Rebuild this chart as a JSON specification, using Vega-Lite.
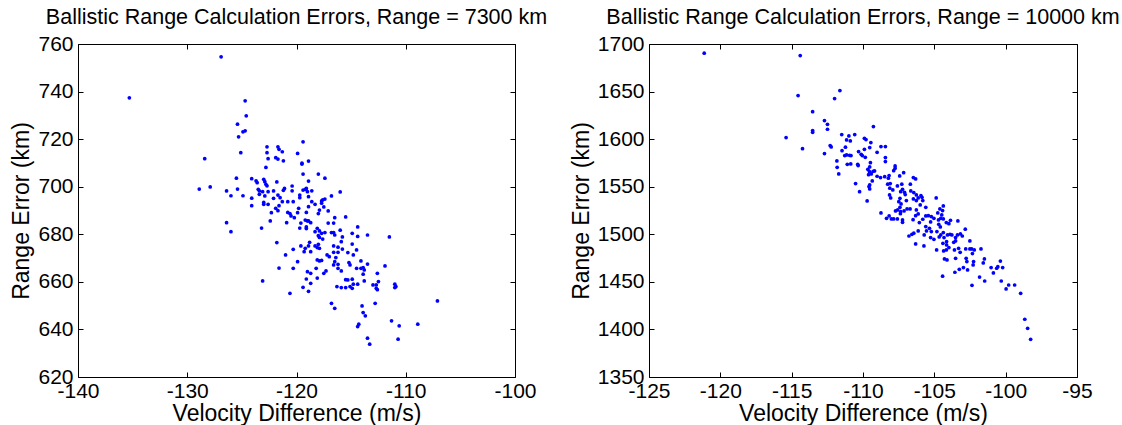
{
  "$schema": "https://vega.github.io/schema/vega-lite/v6.json",
  "padding": {"left": 10, "top": 6, "right": 5, "bottom": 2},
  "config": {
    "font": "Liberation Sans",
    "view": {"stroke": "black", "strokeWidth": 1},
    "title": {"font": "Liberation Sans", "fontSize": 21.5, "fontWeight": "normal", "color": "black", "offset": 5, "anchor": "middle"},
    "axis": {
      "labelFont": "Liberation Sans", "labelFontSize": 21, "labelColor": "black",
      "titleFont": "Liberation Sans", "titleFontSize": 23, "titleFontWeight": "normal", "titleColor": "black",
      "domain": false, "grid": false, "tickColor": "black", "tickSize": 5, "tickWidth": 1,
      "labelFlush": false, "labelOverlap": false, "labelExpr": "'' + datum.value"
    },
    "axisBottom": {"titlePadding": 1, "labelPadding": 3},
    "axisLeft": {"titlePadding": 4, "labelPadding": 5}
  },
  "datasets": {
    "r7300": [
      {"v": -126.9, "err": 754.6}, {"v": -135.3, "err": 737.4}, {"v": -124.7, "err": 736.1}, {"v": -124.6, "err": 729.8},
      {"v": -125.4, "err": 726.3}, {"v": -124.7, "err": 723.5}, {"v": -124.9, "err": 723.1}, {"v": -125.3, "err": 721.0},
      {"v": -125.1, "err": 714.3}, {"v": -128.4, "err": 711.8}, {"v": -128.9, "err": 699.0}, {"v": -127.9, "err": 699.9},
      {"v": -125.5, "err": 703.6}, {"v": -125.4, "err": 699.0}, {"v": -126.4, "err": 698.2}, {"v": -126.0, "err": 696.2},
      {"v": -124.9, "err": 696.2}, {"v": -124.1, "err": 703.4}, {"v": -124.1, "err": 695.2}, {"v": -124.1, "err": 692.0},
      {"v": -126.4, "err": 684.9}, {"v": -126.0, "err": 681.1}, {"v": -123.2, "err": 682.6}, {"v": -123.1, "err": 660.4},
      {"v": -121.8, "err": 676.5}, {"v": -121.6, "err": 665.8}, {"v": -120.6, "err": 655.2}, {"v": -122.7, "err": 716.8},
      {"v": -122.7, "err": 714.3}, {"v": -122.6, "err": 711.8}, {"v": -122.8, "err": 708.1}, {"v": -121.7, "err": 716.8},
      {"v": -121.6, "err": 715.7}, {"v": -121.3, "err": 714.7}, {"v": -121.9, "err": 712.2}, {"v": -121.7, "err": 711.6},
      {"v": -121.2, "err": 710.9}, {"v": -119.4, "err": 718.9}, {"v": -119.9, "err": 714.0}, {"v": -119.5, "err": 709.9},
      {"v": -119.5, "err": 709.5}, {"v": -118.9, "err": 710.8}, {"v": -119.4, "err": 705.3}, {"v": -118.0, "err": 705.3},
      {"v": -117.4, "err": 703.6}, {"v": -118.9, "err": 702.4}, {"v": -123.7, "err": 702.5}, {"v": -123.6, "err": 701.7},
      {"v": -123.0, "err": 703.1}, {"v": -122.9, "err": 702.1}, {"v": -122.8, "err": 701.0}, {"v": -122.7, "err": 700.4},
      {"v": -121.8, "err": 702.0}, {"v": -123.5, "err": 698.9}, {"v": -123.4, "err": 698.2}, {"v": -123.1, "err": 697.9},
      {"v": -122.6, "err": 697.9}, {"v": -123.4, "err": 696.8}, {"v": -122.9, "err": 696.1}, {"v": -122.1, "err": 698.2},
      {"v": -121.1, "err": 699.3}, {"v": -121.2, "err": 698.5}, {"v": -120.4, "err": 700.3}, {"v": -120.4, "err": 698.3},
      {"v": -121.7, "err": 696.5}, {"v": -121.5, "err": 695.4}, {"v": -122.1, "err": 695.1}, {"v": -122.6, "err": 692.6},
      {"v": -123.0, "err": 693.4}, {"v": -123.0, "err": 692.6}, {"v": -121.3, "err": 693.7}, {"v": -120.8, "err": 693.7},
      {"v": -120.3, "err": 693.7}, {"v": -121.6, "err": 692.0}, {"v": -121.9, "err": 690.9}, {"v": -121.7, "err": 689.9},
      {"v": -122.3, "err": 689.1}, {"v": -120.8, "err": 689.2}, {"v": -120.6, "err": 688.7}, {"v": -120.2, "err": 687.0},
      {"v": -119.8, "err": 690.9}, {"v": -119.9, "err": 689.1}, {"v": -120.5, "err": 687.7}, {"v": -120.9, "err": 684.9},
      {"v": -122.4, "err": 685.6}, {"v": -119.7, "err": 696.5}, {"v": -119.7, "err": 695.4}, {"v": -119.4, "err": 698.6},
      {"v": -119.2, "err": 698.9}, {"v": -119.0, "err": 697.9}, {"v": -119.1, "err": 699.3}, {"v": -118.9, "err": 695.8},
      {"v": -118.6, "err": 698.3}, {"v": -118.6, "err": 693.7}, {"v": -118.9, "err": 691.6}, {"v": -119.1, "err": 689.2},
      {"v": -119.2, "err": 686.0}, {"v": -119.0, "err": 685.6}, {"v": -118.9, "err": 685.6}, {"v": -118.7, "err": 684.9},
      {"v": -119.6, "err": 684.7}, {"v": -119.1, "err": 683.1}, {"v": -119.1, "err": 682.4}, {"v": -119.7, "err": 682.6},
      {"v": -118.3, "err": 692.6}, {"v": -118.0, "err": 688.7}, {"v": -117.9, "err": 690.2}, {"v": -117.7, "err": 694.0},
      {"v": -117.6, "err": 694.5}, {"v": -117.4, "err": 694.8}, {"v": -117.7, "err": 693.1}, {"v": -117.5, "err": 691.5},
      {"v": -117.1, "err": 689.8}, {"v": -116.8, "err": 696.1}, {"v": -116.0, "err": 697.8}, {"v": -118.1, "err": 682.5},
      {"v": -118.3, "err": 681.1}, {"v": -117.9, "err": 681.4}, {"v": -117.7, "err": 680.4}, {"v": -117.4, "err": 680.7},
      {"v": -118.0, "err": 679.4}, {"v": -117.9, "err": 678.7}, {"v": -117.6, "err": 678.0}, {"v": -117.1, "err": 684.7},
      {"v": -116.6, "err": 684.7}, {"v": -116.5, "err": 687.0}, {"v": -115.5, "err": 687.3}, {"v": -116.8, "err": 680.7},
      {"v": -116.6, "err": 680.7}, {"v": -116.5, "err": 679.7}, {"v": -116.0, "err": 681.7}, {"v": -115.8, "err": 678.9},
      {"v": -115.9, "err": 676.9}, {"v": -116.6, "err": 675.1}, {"v": -116.2, "err": 674.6}, {"v": -115.8, "err": 673.8},
      {"v": -116.6, "err": 672.4}, {"v": -116.2, "err": 672.4}, {"v": -116.4, "err": 670.2}, {"v": -116.5, "err": 668.5},
      {"v": -116.2, "err": 667.4}, {"v": -116.6, "err": 667.1}, {"v": -116.2, "err": 665.7}, {"v": -115.9, "err": 664.6},
      {"v": -117.2, "err": 671.3}, {"v": -117.0, "err": 670.6}, {"v": -117.5, "err": 663.6}, {"v": -117.3, "err": 664.6},
      {"v": -117.9, "err": 668.8}, {"v": -117.7, "err": 669.0}, {"v": -117.9, "err": 674.1}, {"v": -118.3, "err": 675.1},
      {"v": -118.0, "err": 675.8}, {"v": -118.8, "err": 676.6}, {"v": -118.9, "err": 675.1}, {"v": -119.2, "err": 674.1},
      {"v": -119.3, "err": 672.7}, {"v": -119.6, "err": 675.1}, {"v": -118.7, "err": 672.7}, {"v": -118.1, "err": 674.4},
      {"v": -118.1, "err": 669.2}, {"v": -118.2, "err": 665.7}, {"v": -118.1, "err": 661.6}, {"v": -119.0, "err": 664.3},
      {"v": -118.7, "err": 663.6}, {"v": -118.7, "err": 659.4}, {"v": -119.1, "err": 661.2}, {"v": -119.4, "err": 657.7},
      {"v": -118.9, "err": 656.0}, {"v": -119.9, "err": 668.5}, {"v": -120.3, "err": 665.7}, {"v": -120.3, "err": 673.7},
      {"v": -121.0, "err": 671.3}, {"v": -116.8, "err": 651.0}, {"v": -116.5, "err": 648.9}, {"v": -115.5, "err": 660.9},
      {"v": -116.3, "err": 658.0}, {"v": -115.9, "err": 657.6}, {"v": -115.5, "err": 657.6}, {"v": -115.1, "err": 658.0},
      {"v": -115.3, "err": 660.8}, {"v": -114.9, "err": 657.3}, {"v": -114.9, "err": 661.1}, {"v": -114.8, "err": 659.0},
      {"v": -114.4, "err": 659.0}, {"v": -115.2, "err": 668.1}, {"v": -115.1, "err": 667.1}, {"v": -115.3, "err": 672.3},
      {"v": -114.8, "err": 671.3}, {"v": -114.5, "err": 673.4}, {"v": -114.9, "err": 675.9}, {"v": -114.9, "err": 680.4},
      {"v": -114.4, "err": 679.1}, {"v": -114.4, "err": 683.1}, {"v": -113.5, "err": 679.7}, {"v": -114.5, "err": 665.7},
      {"v": -114.1, "err": 665.7}, {"v": -113.9, "err": 666.0}, {"v": -113.8, "err": 665.0}, {"v": -114.1, "err": 668.8},
      {"v": -113.5, "err": 667.5}, {"v": -113.9, "err": 663.2}, {"v": -113.8, "err": 660.4}, {"v": -114.0, "err": 649.9},
      {"v": -113.9, "err": 647.1}, {"v": -113.7, "err": 645.7}, {"v": -114.3, "err": 642.2}, {"v": -114.4, "err": 641.2},
      {"v": -113.5, "err": 636.3}, {"v": -113.3, "err": 633.8}, {"v": -113.0, "err": 658.7}, {"v": -112.7, "err": 658.7},
      {"v": -112.7, "err": 657.3}, {"v": -112.6, "err": 656.7}, {"v": -112.5, "err": 660.1}, {"v": -112.6, "err": 663.6},
      {"v": -112.8, "err": 651.0}, {"v": -111.9, "err": 666.7}, {"v": -111.5, "err": 678.9}, {"v": -111.0, "err": 659.0},
      {"v": -110.9, "err": 658.0}, {"v": -111.0, "err": 657.6}, {"v": -111.3, "err": 643.6}, {"v": -110.6, "err": 641.5},
      {"v": -110.7, "err": 635.9}, {"v": -108.9, "err": 642.2}, {"v": -107.1, "err": 652.0}
    ],
    "r10000": [
      {"v": -121.13, "err": 1690.3}, {"v": -114.40, "err": 1687.8}, {"v": -114.55, "err": 1645.8}, {"v": -111.62, "err": 1651.0},
      {"v": -111.99, "err": 1642.6}, {"v": -113.53, "err": 1628.9}, {"v": -112.70, "err": 1619.5}, {"v": -112.49, "err": 1615.6},
      {"v": -112.49, "err": 1610.4}, {"v": -113.53, "err": 1609.0}, {"v": -113.53, "err": 1607.2}, {"v": -109.27, "err": 1613.2},
      {"v": -115.39, "err": 1601.6}, {"v": -114.24, "err": 1590.0}, {"v": -112.70, "err": 1584.8}, {"v": -112.30, "err": 1593.2},
      {"v": -112.23, "err": 1591.8}, {"v": -111.49, "err": 1604.8}, {"v": -110.99, "err": 1603.4}, {"v": -110.58, "err": 1604.8},
      {"v": -111.15, "err": 1599.2}, {"v": -110.89, "err": 1598.1}, {"v": -111.23, "err": 1591.5}, {"v": -111.47, "err": 1587.9},
      {"v": -111.83, "err": 1577.1}, {"v": -111.15, "err": 1583.4}, {"v": -110.94, "err": 1583.0}, {"v": -110.84, "err": 1582.7},
      {"v": -111.28, "err": 1582.7}, {"v": -111.81, "err": 1570.4}, {"v": -111.70, "err": 1563.4}, {"v": -111.10, "err": 1573.6},
      {"v": -110.86, "err": 1573.9}, {"v": -109.90, "err": 1600.9}, {"v": -109.79, "err": 1599.5}, {"v": -109.45, "err": 1596.4},
      {"v": -109.53, "err": 1591.1}, {"v": -109.90, "err": 1589.3}, {"v": -110.31, "err": 1586.9}, {"v": -110.13, "err": 1584.1},
      {"v": -110.05, "err": 1582.7}, {"v": -110.37, "err": 1573.6}, {"v": -110.34, "err": 1572.2}, {"v": -109.84, "err": 1580.9},
      {"v": -109.48, "err": 1575.3}, {"v": -109.53, "err": 1570.8}, {"v": -109.66, "err": 1568.3}, {"v": -109.55, "err": 1565.9},
      {"v": -109.61, "err": 1562.7}, {"v": -109.29, "err": 1566.2}, {"v": -109.42, "err": 1563.4}, {"v": -109.19, "err": 1566.6},
      {"v": -109.01, "err": 1561.0}, {"v": -109.35, "err": 1556.1}, {"v": -109.53, "err": 1551.9}, {"v": -109.58, "err": 1550.1},
      {"v": -110.52, "err": 1553.3}, {"v": -110.24, "err": 1544.8}, {"v": -109.71, "err": 1535.0}, {"v": -108.74, "err": 1592.2},
      {"v": -108.43, "err": 1592.2}, {"v": -109.01, "err": 1586.2}, {"v": -108.43, "err": 1580.6}, {"v": -108.43, "err": 1576.4},
      {"v": -107.75, "err": 1571.8}, {"v": -107.75, "err": 1569.4}, {"v": -107.85, "err": 1566.9}, {"v": -108.77, "err": 1559.6},
      {"v": -108.17, "err": 1561.7}, {"v": -108.22, "err": 1558.9}, {"v": -108.48, "err": 1560.6}, {"v": -107.43, "err": 1561.3},
      {"v": -107.15, "err": 1564.8}, {"v": -108.27, "err": 1552.6}, {"v": -108.09, "err": 1553.3}, {"v": -108.12, "err": 1548.4},
      {"v": -107.91, "err": 1546.6}, {"v": -107.59, "err": 1550.8}, {"v": -107.28, "err": 1552.6}, {"v": -107.23, "err": 1547.3},
      {"v": -107.36, "err": 1544.8}, {"v": -107.09, "err": 1544.1}, {"v": -107.04, "err": 1541.7}, {"v": -108.14, "err": 1541.3},
      {"v": -108.06, "err": 1538.2}, {"v": -107.41, "err": 1537.8}, {"v": -107.49, "err": 1534.3}, {"v": -107.33, "err": 1531.9},
      {"v": -107.41, "err": 1528.4}, {"v": -106.96, "err": 1535.4}, {"v": -106.68, "err": 1552.6}, {"v": -106.47, "err": 1559.6},
      {"v": -106.31, "err": 1558.2}, {"v": -106.65, "err": 1545.5}, {"v": -106.44, "err": 1543.8}, {"v": -106.26, "err": 1541.3},
      {"v": -106.47, "err": 1537.1}, {"v": -106.26, "err": 1535.4}, {"v": -106.13, "err": 1538.2}, {"v": -105.94, "err": 1540.6},
      {"v": -105.86, "err": 1538.9}, {"v": -105.81, "err": 1535.4}, {"v": -105.99, "err": 1530.8}, {"v": -105.60, "err": 1528.4},
      {"v": -104.87, "err": 1538.2}, {"v": -106.26, "err": 1525.6}, {"v": -106.70, "err": 1526.6}, {"v": -106.91, "err": 1526.6},
      {"v": -107.12, "err": 1524.5}, {"v": -107.36, "err": 1523.8}, {"v": -107.57, "err": 1525.6}, {"v": -107.38, "err": 1521.7},
      {"v": -107.72, "err": 1524.5}, {"v": -107.85, "err": 1516.1}, {"v": -107.59, "err": 1516.1}, {"v": -108.17, "err": 1519.3},
      {"v": -108.01, "err": 1516.1}, {"v": -108.35, "err": 1516.8}, {"v": -108.74, "err": 1522.4}, {"v": -107.23, "err": 1515.1},
      {"v": -107.23, "err": 1512.6}, {"v": -106.49, "err": 1515.4}, {"v": -106.31, "err": 1519.6}, {"v": -106.13, "err": 1521.4},
      {"v": -106.05, "err": 1512.3}, {"v": -105.81, "err": 1515.8}, {"v": -105.60, "err": 1519.3}, {"v": -105.42, "err": 1519.6},
      {"v": -105.21, "err": 1518.6}, {"v": -105.26, "err": 1513.0}, {"v": -105.03, "err": 1516.8}, {"v": -104.76, "err": 1522.4},
      {"v": -104.71, "err": 1515.1}, {"v": -104.55, "err": 1516.8}, {"v": -104.48, "err": 1520.3}, {"v": -104.37, "err": 1529.8},
      {"v": -104.61, "err": 1526.6}, {"v": -104.42, "err": 1524.9}, {"v": -104.37, "err": 1516.1}, {"v": -104.16, "err": 1512.3},
      {"v": -104.69, "err": 1510.5}, {"v": -104.58, "err": 1507.7}, {"v": -103.87, "err": 1514.7}, {"v": -103.98, "err": 1511.2},
      {"v": -103.35, "err": 1514.0}, {"v": -105.60, "err": 1508.1}, {"v": -105.34, "err": 1506.3}, {"v": -105.21, "err": 1502.8},
      {"v": -105.55, "err": 1503.5}, {"v": -106.13, "err": 1503.5}, {"v": -106.44, "err": 1501.1}, {"v": -106.78, "err": 1498.2},
      {"v": -106.57, "err": 1500.0}, {"v": -106.31, "err": 1489.8}, {"v": -105.71, "err": 1499.3}, {"v": -105.73, "err": 1487.7},
      {"v": -104.84, "err": 1483.5}, {"v": -105.03, "err": 1494.7}, {"v": -105.26, "err": 1496.5}, {"v": -104.66, "err": 1497.2},
      {"v": -104.55, "err": 1499.3}, {"v": -104.37, "err": 1501.8}, {"v": -104.32, "err": 1496.5}, {"v": -104.08, "err": 1499.3},
      {"v": -103.90, "err": 1500.0}, {"v": -103.77, "err": 1499.3}, {"v": -103.51, "err": 1496.5}, {"v": -103.38, "err": 1499.3},
      {"v": -103.17, "err": 1500.4}, {"v": -103.04, "err": 1498.2}, {"v": -102.83, "err": 1505.3}, {"v": -103.51, "err": 1493.0},
      {"v": -103.64, "err": 1491.6}, {"v": -104.14, "err": 1492.3}, {"v": -104.14, "err": 1488.8}, {"v": -104.40, "err": 1490.5},
      {"v": -103.98, "err": 1486.0}, {"v": -104.16, "err": 1483.5}, {"v": -104.35, "err": 1482.5}, {"v": -104.29, "err": 1474.1},
      {"v": -104.11, "err": 1473.0}, {"v": -103.59, "err": 1483.5}, {"v": -103.30, "err": 1485.3}, {"v": -103.19, "err": 1481.1},
      {"v": -103.51, "err": 1474.8}, {"v": -102.80, "err": 1484.6}, {"v": -102.77, "err": 1474.8}, {"v": -102.72, "err": 1471.3},
      {"v": -102.51, "err": 1493.0}, {"v": -102.51, "err": 1484.6}, {"v": -102.38, "err": 1484.6}, {"v": -102.20, "err": 1483.5},
      {"v": -102.33, "err": 1479.7}, {"v": -101.73, "err": 1484.6}, {"v": -102.25, "err": 1471.3}, {"v": -102.67, "err": 1462.5},
      {"v": -102.96, "err": 1465.0}, {"v": -103.25, "err": 1463.2}, {"v": -103.56, "err": 1460.1}, {"v": -102.28, "err": 1467.8},
      {"v": -104.42, "err": 1455.9}, {"v": -101.83, "err": 1455.1}, {"v": -102.36, "err": 1446.4}, {"v": -101.47, "err": 1450.9},
      {"v": -101.49, "err": 1474.1}, {"v": -101.57, "err": 1469.9}, {"v": -101.02, "err": 1465.0}, {"v": -100.86, "err": 1459.4},
      {"v": -100.63, "err": 1464.3}, {"v": -100.55, "err": 1466.0}, {"v": -100.37, "err": 1471.9}, {"v": -100.21, "err": 1465.0},
      {"v": -100.31, "err": 1450.9}, {"v": -99.97, "err": 1442.5}, {"v": -99.79, "err": 1446.7}, {"v": -99.37, "err": 1446.7},
      {"v": -98.95, "err": 1438.0}, {"v": -98.66, "err": 1410.7}, {"v": -98.46, "err": 1401.2}, {"v": -98.25, "err": 1389.6},
      {"v": -104.82, "err": 1502.8}, {"v": -109.53, "err": 1547.7}
    ]
  },
  "bounds": "flush",
  "spacing": 134,
  "hconcat": [
    {
      "title": "Ballistic Range Calculation Errors, Range = 7300 km",
      "width": 437,
      "height": 333,
      "data": {"name": "r7300"},
      "resolve": {"axis": {"x": "independent", "y": "independent"}},
      "layer": [
        {
          "mark": {"type": "point", "shape": "circle", "filled": true, "size": 14, "color": "#0000ff", "opacity": 1},
          "encoding": {
            "x": {"field": "v", "type": "quantitative", "scale": {"domain": [-140, -100], "nice": false, "zero": false},
                  "axis": {"orient": "bottom", "ticks": false, "title": "Velocity Difference (m/s)", "values": [-140, -130, -120, -110, -100]}},
            "y": {"field": "err", "type": "quantitative", "scale": {"domain": [620, 760], "nice": false, "zero": false},
                  "axis": {"orient": "left", "ticks": false, "title": "Range Error (km)", "values": [620, 640, 660, 680, 700, 720, 740, 760]}}
          }
        },
        {
          "mark": {"type": "point", "opacity": 0},
          "encoding": {
            "x": {"field": "v", "type": "quantitative",
                  "axis": {"orient": "top", "offset": -5, "title": null, "labels": false, "values": [-140, -130, -120, -110, -100]}},
            "y": {"field": "err", "type": "quantitative",
                  "axis": {"orient": "right", "offset": -5, "title": null, "labels": false, "values": [620, 640, 660, 680, 700, 720, 740, 760]}}
          }
        },
        {
          "mark": {"type": "point", "opacity": 0},
          "encoding": {
            "x": {"field": "v", "type": "quantitative",
                  "axis": {"orient": "bottom", "offset": -5, "title": null, "labels": false, "values": [-140, -130, -120, -110, -100]}},
            "y": {"field": "err", "type": "quantitative",
                  "axis": {"orient": "left", "offset": -5, "title": null, "labels": false, "values": [620, 640, 660, 680, 700, 720, 740, 760]}}
          }
        }
      ]
    },
    {
      "title": "Ballistic Range Calculation Errors, Range = 10000 km",
      "width": 428,
      "height": 333,
      "data": {"name": "r10000"},
      "resolve": {"axis": {"x": "independent", "y": "independent"}},
      "layer": [
        {
          "mark": {"type": "point", "shape": "circle", "filled": true, "size": 14, "color": "#0000ff", "opacity": 1},
          "encoding": {
            "x": {"field": "v", "type": "quantitative", "scale": {"domain": [-125, -95], "nice": false, "zero": false},
                  "axis": {"orient": "bottom", "ticks": false, "title": "Velocity Difference (m/s)", "values": [-125, -120, -115, -110, -105, -100, -95]}},
            "y": {"field": "err", "type": "quantitative", "scale": {"domain": [1350, 1700], "nice": false, "zero": false},
                  "axis": {"orient": "left", "ticks": false, "title": "Range Error (km)", "values": [1350, 1400, 1450, 1500, 1550, 1600, 1650, 1700]}}
          }
        },
        {
          "mark": {"type": "point", "opacity": 0},
          "encoding": {
            "x": {"field": "v", "type": "quantitative",
                  "axis": {"orient": "top", "offset": -5, "title": null, "labels": false, "values": [-125, -120, -115, -110, -105, -100, -95]}},
            "y": {"field": "err", "type": "quantitative",
                  "axis": {"orient": "right", "offset": -5, "title": null, "labels": false, "values": [1350, 1400, 1450, 1500, 1550, 1600, 1650, 1700]}}
          }
        },
        {
          "mark": {"type": "point", "opacity": 0},
          "encoding": {
            "x": {"field": "v", "type": "quantitative",
                  "axis": {"orient": "bottom", "offset": -5, "title": null, "labels": false, "values": [-125, -120, -115, -110, -105, -100, -95]}},
            "y": {"field": "err", "type": "quantitative",
                  "axis": {"orient": "left", "offset": -5, "title": null, "labels": false, "values": [1350, 1400, 1450, 1500, 1550, 1600, 1650, 1700]}}
          }
        }
      ]
    }
  ]
}
